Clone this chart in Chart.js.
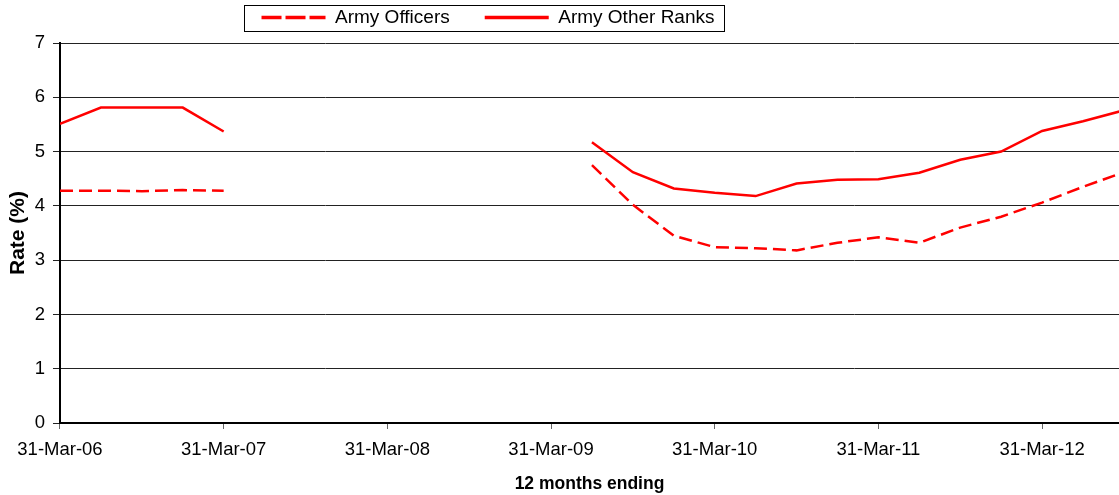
<!DOCTYPE html>
<html>
<head>
<meta charset="utf-8">
<script src="https://cdn.jsdelivr.net/npm/chart.js@4"></script>
<style>
  html, body { margin: 0; padding: 0; background: #fff; }
  #wrap { width: 1119px; height: 495px; overflow: hidden; }
</style>
</head>
<body>
<div id="wrap"><canvas id="c" width="1119" height="495"></canvas></div>
<script>
// Quarterly periods (12 months ending)
const quarters = [
  'Mar-06','Jun-06','Sep-06','Dec-06',
  'Mar-07','Jun-07','Sep-07','Dec-07',
  'Mar-08','Jun-08','Sep-08','Dec-08',
  'Mar-09','Jun-09','Sep-09','Dec-09',
  'Mar-10','Jun-10','Sep-10','Dec-10',
  'Mar-11','Jun-11','Sep-11','Dec-11',
  'Mar-12','Jun-12','Sep-12'
];
const tickLabels = ['31-Mar-06','31-Mar-07','31-Mar-08','31-Mar-09','31-Mar-10','31-Mar-11','31-Mar-12'];
const armyOfficers = [
  4.28, 4.28, 4.27, 4.29,
  4.28, null, null, null,
  null, null, null, null,
  null, 4.75, 4.02, 3.45,
  3.24, 3.22, 3.18, 3.32,
  3.42, 3.32, 3.60, 3.80,
  4.06, 4.35, 4.62
];
const armyOtherRanks = [
  5.51, 5.81, 5.81, 5.81,
  5.37, null, null, null,
  null, null, null, null,
  null, 5.17, 4.62, 4.32,
  4.24, 4.18, 4.41, 4.48,
  4.49, 4.61, 4.85, 5.00,
  5.38, 5.56, 5.76
];
const seriesNames = ['Army Officers', 'Army Other Ranks'];
const yTicks = [0, 1, 2, 3, 4, 5, 6, 7];

const FONT = "'Liberation Sans', Arial, sans-serif";
const toPoints = arr => arr.map((v, i) => ({ x: i, y: v }));

const legendFrame = {
  id: 'legendFrame',
  afterLayout(chart) {
    const lg = chart.legend;
    lg.left = 0;
    lg.right = 976;
    lg.top -= 27;
  },
  afterDraw(chart) {
    const lg = chart.legend;
    const hb = lg.legendHitBoxes;
    if (!hb || !hb.length) return;
    const first = hb[0], last = hb[hb.length - 1];
    const cy = first.top + first.height / 2;
    const ctx = chart.ctx;
    ctx.save();
    ctx.strokeStyle = '#000';
    ctx.lineWidth = 1;
    const x0 = Math.round(first.left - 18) + 0.5;
    const x1 = Math.round(last.left + last.width + 10) + 0.5;
    const y0 = Math.round(cy - 13) + 0.5;
    const y1 = Math.round(cy + 13) + 0.5;
    ctx.strokeRect(x0, y0, x1 - x0, y1 - y0);
    ctx.restore();
  }
};

new Chart(document.getElementById('c'), {
  type: 'line',
  data: {
    datasets: [
      {
        label: seriesNames[0],
        data: toPoints(armyOfficers),
        borderColor: '#FF0000',
        backgroundColor: '#FF0000',
        borderWidth: 2.5,
        borderDash: [13, 6],
        pointRadius: 0,
        spanGaps: false,
        tension: 0
      },
      {
        label: seriesNames[1],
        data: toPoints(armyOtherRanks),
        borderColor: '#FF0000',
        backgroundColor: '#FF0000',
        borderWidth: 2.5,
        pointRadius: 0,
        spanGaps: false,
        tension: 0
      }
    ]
  },
  options: {
    responsive: false,
    animation: false,
    devicePixelRatio: 1,
    layout: { padding: { left: 0, right: 0, top: 0, bottom: 0 } },
    plugins: {
      tooltip: { enabled: false },
      legend: {
        position: 'top',
        align: 'center',
        maxHeight: 43,
        labels: {
          usePointStyle: true,
          pointStyle: 'line',
          pointStyleWidth: 64,
          padding: 35,
          color: '#000',
          font: { family: FONT, size: 19 },
          generateLabels(chart) {
            const items = Chart.defaults.plugins.legend.labels.generateLabels(chart);
            return items.map((it, i) => Object.assign(it, {
              pointStyle: 'line',
              lineWidth: 3.5,
              lineDash: i === 0 ? [20, 4] : [],
              fontColor: '#000'
            }));
          }
        }
      }
    },
    scales: {
      x: {
        type: 'linear',
        min: 0,
        max: 25.88,
        afterBuildTicks(axis) {
          axis.ticks = tickLabels.map((_, i) => ({ value: i * 4 }));
        },
        ticks: {
          autoSkip: false,
          maxRotation: 0,
          padding: 10,
          color: '#000',
          font: { family: FONT, size: 18.5 },
          callback: (v, i) => tickLabels[i]
        },
        grid: {
          drawOnChartArea: false,
          drawTicks: true,
          tickLength: 6,
          color: '#666'
        },
        border: { display: true, color: '#000', width: 2 },
        title: {
          display: true,
          text: '12 months ending',
          color: '#000',
          font: { family: FONT, size: 17.5, weight: 'bold' },
          padding: { top: 2.8, bottom: 0 }
        }
      },
      y: {
        type: 'linear',
        min: 0,
        max: 7,
        afterBuildTicks(axis) {
          axis.ticks = yTicks.map(v => ({ value: v }));
        },
        ticks: {
          padding: 8,
          color: '#000',
          font: { family: FONT, size: 18.5 }
        },
        grid: {
          color: '#222',
          lineWidth: 1,
          tickLength: 7
        },
        border: { display: true, color: '#000', width: 2 },
        title: {
          display: true,
          text: 'Rate (%)',
          color: '#000',
          font: { family: FONT, size: 21, weight: 'bold' },
          padding: { top: 6, bottom: -4.5 }
        }
      }
    }
  },
  plugins: [legendFrame]
});
</script>
</body>
</html>
